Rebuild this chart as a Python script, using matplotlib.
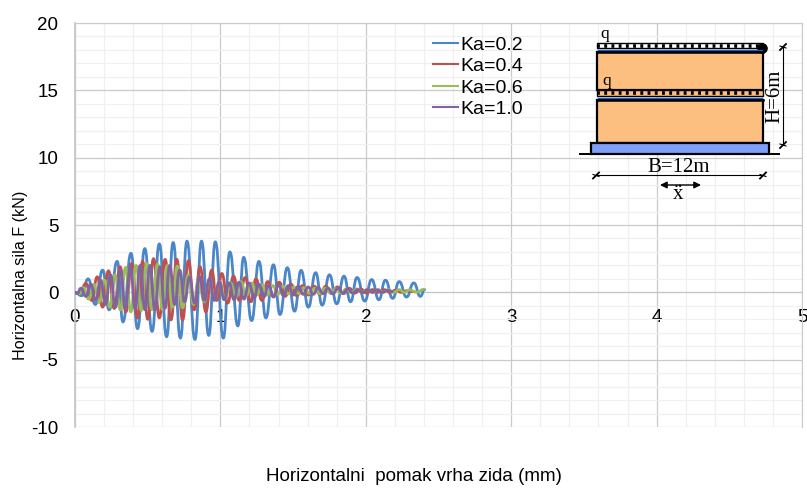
import matplotlib
matplotlib.use('Agg')
import matplotlib.pyplot as plt
from matplotlib.path import Path
from matplotlib.patches import PathPatch, Rectangle, Circle
from matplotlib.lines import Line2D

plt.rcParams['font.family'] = ['Liberation Sans', 'DejaVu Sans']
plt.rcParams['axes.unicode_minus'] = False

# turning points of each curve
x_02 = [0, .045, .09, .14, .19, .235, .29, .33, .385, .43, .48, .53, .58, .63, .675, .725, .77, .825, .87, .92,
        .965, 1.02, 1.065, 1.12, 1.16, 1.215, 1.265, 1.313, 1.365, 1.41, 1.46, 1.51, 1.555, 1.605, 1.655, 1.70,
        1.75, 1.80, 1.85, 1.895, 1.94, 1.993, 2.04, 2.09, 2.135, 2.185, 2.23, 2.28, 2.33, 2.375, 2.405]
y_02 = [0, -.25, 1.0, -.9, 1.65, -1.3, 2.3, -2.2, 2.9, -2.7, 3.25, -2.9, 3.6, -3.3, 3.7, -3.4, 3.8, -3.5, 3.8, -3.2,
        3.75, -3.4, 3.0, -2.5, 2.6, -2.1, 2.3, -1.9, 2.05, -1.65, 1.83, -1.4, 1.63, -1.1, 1.46, -.95,
        1.3, -.85, 1.2, -.7, 1.1, -.65, .95, -.55, .9, -.45, .8, -.35, .7, -.3, .2]

x_04 = [0, .03, .075, .115, .153, .19, .23, .27, .31, .35, .39, .43, .465, .50, .54, .58, .62, .66, .70, .74, .78,
        .82, .86, .90, .94, .975, 1.01, 1.05, 1.09, 1.13, 1.17, 1.21, 1.245, 1.285, 1.325, 1.365, 1.405, 1.445,
        1.485, 1.525, 1.565, 1.605, 1.645, 1.685, 1.725, 1.765, 1.805, 1.845, 1.885, 1.925, 1.965, 2.005, 2.045,
        2.085, 2.125, 2.165, 2.205, 2.245, 2.285, 2.33]
y_04 = [0, -.1, .65, -.6, 1.15, -1.1, 1.6, -1.2, 1.9, -1.45, 2.15, -1.9, 2.3, -2.0, 2.5, -1.9, 2.45, -2.05, 2.45,
        -2.05, 2.35, -1.3, 1.9, -1.45, 1.65, -.6, 1.4, -.8, 1.2, -.6, 1.1, -.7, 1.0, -.6, .8, -.35, .75, -.3,
        .6, -.25, .5, -.2, .45, -.15, .45, -.1, .4, -.1, .3, -.05, .25, -.05, .2, 0, .2, 0, .15, 0, .12, .05]

x_06 = [0, .03, .058, .094, .13, .166, .203, .239, .275, .312, .348, .384, .42, .456, .493, .53, .568, .60, .635,
        .67, .703, .74, .78, .815, .85, .888, .925, .96, .995, 1.032, 1.07, 1.105, 1.14, 1.178, 1.215, 1.25, 1.285,
        1.322, 1.36, 1.395, 1.43, 1.468, 1.505, 1.54, 1.575, 1.612, 1.65, 1.685, 1.72, 1.758, 1.795, 1.83, 1.865,
        1.902, 1.94, 1.975, 2.01, 2.048, 2.085, 2.12, 2.155, 2.192, 2.23, 2.265, 2.30, 2.35, 2.4]
y_06 = [0, -.1, .35, -.5, .6, -.75, .9, -1.1, 1.3, -1.3, 1.85, -1.45, 2.0, -1.35, 2.15, -1.3, 2.1, -1.25, 2.0,
        -1.1, 1.95, -1.15, 1.3, -.9, 1.0, -.7, .9, -.55, .8, -.5, .7, -.35, .8, -.25, .7, -.2, .55,
        -.2, .5, -.15, .45, -.12, .4, -.1, .35, -.08, .3, -.1, .3, -.05, .28, -.05, .25,
        0, .25, 0, .22, 0, .2, 0, .2, 0, .2, 0, .18, .02, .22]

x_10 = [0, .015, .04, .074, .108, .142, .176, .21, .244, .278, .312, .346, .38, .414, .448, .482, .516, .55, .584,
        .618, .652, .686, .72, .754, .788, .822, .856, .89, .924, .958, .992, 1.026, 1.06, 1.094, 1.128, 1.162,
        1.196, 1.23, 1.264, 1.298, 1.332, 1.366, 1.40, 1.434, 1.468, 1.502, 1.536, 1.57, 1.604, 1.638, 1.672,
        1.706, 1.74, 1.774, 1.808, 1.842, 1.876, 1.91, 1.944, 1.978, 2.012, 2.046, 2.08, 2.114, 2.148, 2.182]
y_10 = [0, -.1, .3, -.3, .6, -.6, .9, -.9, 1.3, -1.1, 1.65, -1.2, 1.9, -1.25, 2.0, -1.3, 2.0, -1.3, 1.9,
        -1.2, 2.0, -.9, 1.65, -.7, 1.15, -.8, 1.15, -.6, 1.0, -.6, .8, -.55, .7, -.55, .75, -.5,
        .7, -.45, .6, -.35, .5, -.3, .55, -.25, .5, -.2, .45, -.15, .4, -.15, .35,
        -.1, .3, -.1, .3, -.05, .25, -.05, .2, -.02, .2, 0, .18, 0, .15, .05]

labels = ['Ka=0.2', 'Ka=0.4', 'Ka=0.6', 'Ka=1.0']
colors = ['#4a86c8', '#c0504d', '#9bbb59', '#8064a2']
xticks = [0, 1, 2, 3, 4, 5]
yticks = [-10, -5, 0, 5, 10, 15, 20]


def smooth_path(xs, ys):
    # smoothed line like the spreadsheet draws it, flat at every turning point
    verts = [(xs[0], ys[0])]
    codes = [Path.MOVETO]
    for x0, y0, x1, y1 in zip(xs[:-1], ys[:-1], xs[1:], ys[1:], strict=True):
        mid = (x0 + x1) / 2
        verts += [(mid, y0), (mid, y1), (x1, y1)]
        codes += [Path.CURVE4] * 3
    return Path(verts, codes)


fig = plt.figure(figsize=(8.07, 4.9), dpi=100)
ax = fig.add_axes([75 / 807, 63 / 490, 727 / 807, 404 / 490])
ax.set_xlim(0, 5)
ax.set_ylim(-10, 20)
ax.set_xticks(xticks)
ax.set_yticks(yticks)
ax.set_xticks([i * 0.2 for i in range(26)], minor=True)
ax.set_yticks(list(range(-10, 21)), minor=True)
ax.grid(which='minor', color='#f0f0f0', lw=0.9)
ax.grid(which='major', color='#cacaca', lw=0.9)
ax.set_axisbelow(True)
ax.tick_params(which='both', length=0)
ax.tick_params(axis='both', which='major', labelsize=13.5, pad=12)
for side in ['top', 'right']:
    ax.spines[side].set_color('#cacaca')
ax.spines['left'].set_color('#c4c4c4')
ax.spines['left'].set_linewidth(1.2)
ax.spines['bottom'].set_position(('data', 0))
ax.spines['bottom'].set_color('#c4c4c4')

series = [(x_02, y_02), (x_04, y_04), (x_06, y_06), (x_10, y_10)]
for (xs, ys), c in zip(series, colors):
    ax.add_patch(PathPatch(smooth_path(xs, ys), fc='none', ec=c, lw=2.0, capstyle='round', joinstyle='round', zorder=3))

handles = [Line2D([0], [0], color=c, lw=1.5) for c in colors]
ax.legend(handles, labels, loc='upper left', bbox_to_anchor=(433 / 807, 1 - 36 / 490), bbox_transform=fig.transFigure,
          frameon=False, fontsize=14, handlelength=1.3, handletextpad=0.1, labelspacing=0.2,
          borderpad=0, borderaxespad=0)

fig.text(414 / 807, 1 - 476 / 490, 'Horizontalni  pomak vrha zida (mm)', ha='center', va='center', fontsize=13.5)
fig.text(21 / 807, 1 - 275 / 490, 'Horizontalna sila F (kN)', ha='center', va='center', rotation=90, fontsize=11.6)

# the wall sketch, placed in picture pixels
sk = fig.add_axes([0, 0, 1, 1], zorder=5)
sk.set_xlim(0, 807)
sk.set_ylim(490, 0)
sk.axis('off')
sk.patch.set_alpha(0)

sk.add_patch(Rectangle((597, 52), 166, 38, fc='#fdbf7f', ec='black', lw=1.6))
sk.add_patch(Rectangle((597, 100), 166, 43, fc='#fdbf7f', ec='black', lw=1.6))
sk.add_patch(Rectangle((591, 143), 178, 11, fc='#7f9ffb', ec='black', lw=1.6))
sk.add_patch(Rectangle((597, 43.5), 166, 5, fc='white', ec='black', lw=1.0))
sk.add_patch(Rectangle((597, 90), 166, 6, fc='#fdbf7f', ec='black', lw=1.0))
sk.plot([597, 763], [46, 46], color='black', lw=2.6, ls=(0, (0.8, 1.2)))
sk.plot([597, 763], [93, 93], color='black', lw=2.6, ls=(0, (0.8, 1.2)))
sk.plot([598, 762], [50, 50], color='#1060d0', lw=1.0)
sk.plot([598, 762], [98, 98], color='#1060d0', lw=1.0)
sk.plot([597, 763], [52.5, 52.5], color='black', lw=1.8)
sk.plot([597, 763], [100, 100], color='black', lw=1.8)
sk.plot([580, 779], [154.5, 154.5], color='black', lw=1.4)
sk.add_patch(Circle((762.5, 48.5), 4.6, fc='black', ec='black'))

# dimension lines
sk.plot([783, 783], [47, 145], color='black', lw=0.8)
sk.plot([596, 763], [175.5, 175.5], color='black', lw=0.8)
for px, py in [(783, 47), (783, 145), (596, 175.5), (763, 175.5)]:
    sk.plot([px - 3, px + 3], [py + 3, py - 3], color='black', lw=1.3)
    sk.plot([px - 3, px + 3], [py - 1, py + 1], color='black', lw=0.8)
sk.annotate('', xy=(660, 185), xytext=(680, 185), arrowprops=dict(arrowstyle='-|>', color='black', lw=1.0, shrinkA=0, shrinkB=0))
sk.annotate('', xy=(701, 185), xytext=(680, 185), arrowprops=dict(arrowstyle='-|>', color='black', lw=1.0, shrinkA=0, shrinkB=0))

serif = ['Liberation Serif', 'DejaVu Serif']
sk.text(605, 34, 'q', family=serif, fontsize=12.5, ha='center', va='center')
sk.text(607, 81, 'q', family=serif, fontsize=12.5, ha='center', va='center')
sk.text(679, 167, 'B=12m', family=serif, fontsize=15, ha='center', va='center')
sk.text(775, 96, 'H=6m', family=serif, fontsize=15, ha='center', va='center', rotation=90)
sk.text(678, 194, '\u1e8d', family=serif, fontsize=15, ha='center', va='center')

fig.savefig('out.png', dpi=100)
